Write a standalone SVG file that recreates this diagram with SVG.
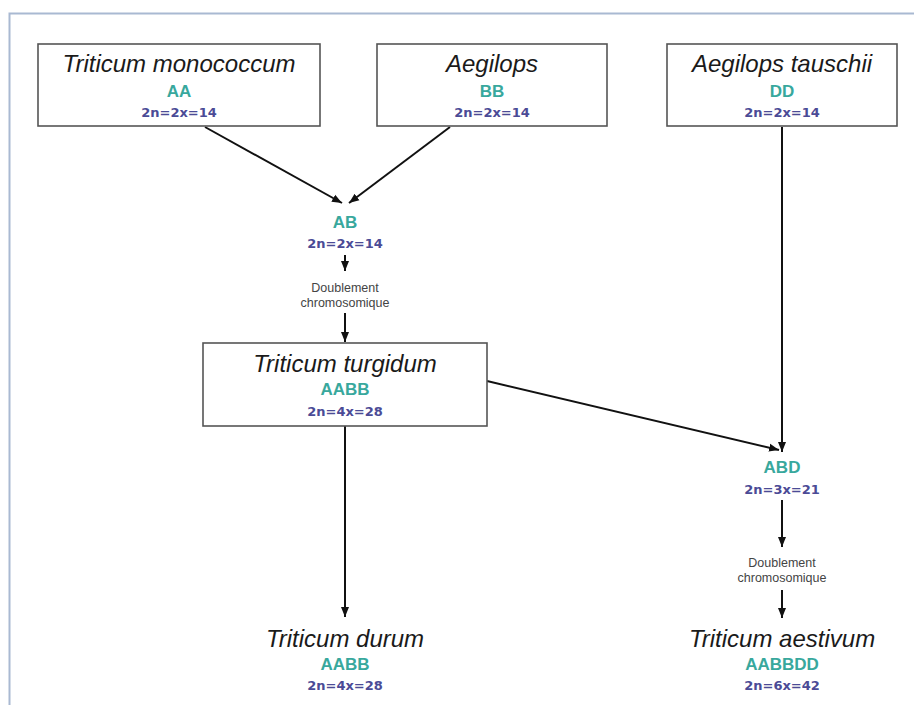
<svg xmlns="http://www.w3.org/2000/svg" width="914" height="705" viewBox="0 0 914 705">
<style>
.box{fill:#fff;stroke:#555;stroke-width:1.6}
.sp{font-family:"Liberation Sans",Arial,sans-serif;font-style:italic;font-size:24px;fill:#1a1a1a;text-anchor:middle}
.gn{font-family:"Liberation Sans",Arial,sans-serif;font-weight:bold;font-size:17px;fill:#38a89d;text-anchor:middle}
.ch{font-family:"DejaVu Sans",Verdana,sans-serif;font-weight:bold;font-size:13px;fill:#4b4b96;text-anchor:middle}
.db{font-family:"Liberation Sans",Arial,sans-serif;font-size:12.5px;fill:#444;text-anchor:middle}
.ln{stroke:#111;stroke-width:2;fill:none;marker-end:url(#ah)}
</style>
<defs>
<marker id="ah" markerUnits="userSpaceOnUse" markerWidth="10" markerHeight="10" viewBox="0 0 10 10" refX="10" refY="5" orient="auto">
<path d="M0,1 L10,5 L0,9 Z" fill="#111"/>
</marker>
</defs>
<rect width="914" height="705" fill="#fff"/>
<path d="M9.5,705 V13.5 H914" fill="none" stroke="#a9b9d2" stroke-width="2"/>
<g id="connectors">
<line class="ln" x1="205" y1="127" x2="342" y2="203"/>
<line class="ln" x1="450" y1="127" x2="349" y2="203"/>
<line class="ln" x1="345" y1="255" x2="345" y2="271"/>
<line class="ln" x1="345" y1="313" x2="345" y2="342"/>
<line class="ln" x1="345" y1="426" x2="345" y2="617"/>
<line class="ln" x1="782" y1="127" x2="782" y2="452"/>
<line class="ln" x1="487" y1="381" x2="779" y2="450"/>
<line class="ln" x1="782" y1="500" x2="782" y2="547"/>
<line class="ln" x1="782" y1="590" x2="782" y2="618"/>
</g>
<g id="monococcum">
<rect class="box" x="38" y="44" width="282" height="82"/>
<text class="sp" x="179" y="72">Triticum monococcum</text>
<text class="gn" x="179" y="97">AA</text>
<text class="ch" x="179" y="117">2n=2x=14</text>
</g>
<g id="aegilops">
<rect class="box" x="377" y="44" width="230" height="82"/>
<text class="sp" x="492" y="72">Aegilops</text>
<text class="gn" x="492" y="97">BB</text>
<text class="ch" x="492" y="117">2n=2x=14</text>
</g>
<g id="tauschii">
<rect class="box" x="667" y="44" width="230" height="82"/>
<text class="sp" x="782" y="72">Aegilops tauschii</text>
<text class="gn" x="782" y="97">DD</text>
<text class="ch" x="782" y="117">2n=2x=14</text>
</g>
<g id="ab">
<text class="gn" x="345" y="228">AB</text>
<text class="ch" x="345" y="248">2n=2x=14</text>
</g>
<g id="doublement1">
<text class="db" x="345" y="292">Doublement</text>
<text class="db" x="345" y="307">chromosomique</text>
</g>
<g id="turgidum">
<rect class="box" x="203" y="343" width="284" height="83"/>
<text class="sp" x="345" y="372">Triticum turgidum</text>
<text class="gn" x="345" y="395">AABB</text>
<text class="ch" x="345" y="416">2n=4x=28</text>
</g>
<g id="durum">
<text class="sp" x="345" y="647">Triticum durum</text>
<text class="gn" x="345" y="670">AABB</text>
<text class="ch" x="345" y="690">2n=4x=28</text>
</g>
<g id="abd">
<text class="gn" x="782" y="473">ABD</text>
<text class="ch" x="782" y="494">2n=3x=21</text>
</g>
<g id="doublement2">
<text class="db" x="782" y="567">Doublement</text>
<text class="db" x="782" y="582">chromosomique</text>
</g>
<g id="aestivum">
<text class="sp" x="782" y="647">Triticum aestivum</text>
<text class="gn" x="782" y="670">AABBDD</text>
<text class="ch" x="782" y="690">2n=6x=42</text>
</g>
</svg>
